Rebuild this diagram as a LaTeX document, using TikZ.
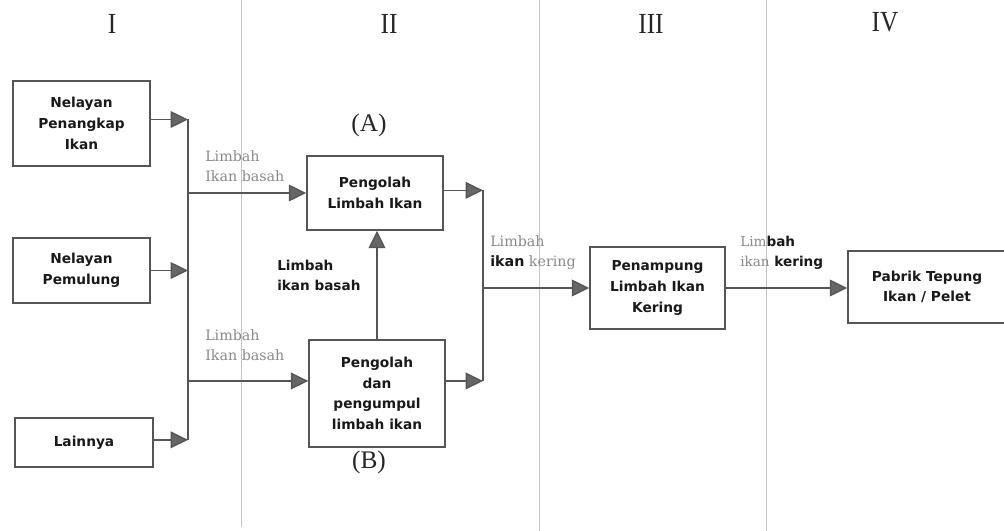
\documentclass[tikz,border=0pt]{standalone}
\usepackage{fontspec}
\setmainfont{Liberation Serif}
\newfontfamily\boxfont{DejaVu Sans}
\newfontfamily\lblfont{DejaVu Serif}
\usetikzlibrary{arrows.meta,calc}
\definecolor{linec}{HTML}{555555}
\definecolor{gridc}{HTML}{C4C4C4}
\definecolor{lgray}{HTML}{8A8A8A}
\begin{document}
\begin{tikzpicture}[x=0.75pt,y=-0.75pt,
  box/.style={draw=linec,line width=1.1pt,fill=white,align=center,inner sep=0pt,
    font=\boxfont\bfseries\fontsize{10.3}{15.5}\selectfont,text=black!90},
  arr/.style={draw=linec,line width=1pt,-{Triangle[length=13pt,width=12.5pt,fill=linec!90]}},
  ln/.style={draw=linec,line width=1pt},
  grid/.style={draw=gridc,line width=0.6pt},
  roman/.style={font=\fontsize{19}{22}\selectfont,text=black!85,yscale=1.15},
  lab/.style={font=\fontsize{19}{22}\selectfont,text=black!85},
  glbl/.style={font=\lblfont\fontsize{10.7}{15}\selectfont,text=lgray,align=left,inner sep=0pt,anchor=west},
  blbl/.style={font=\boxfont\bfseries\fontsize{10.2}{15}\selectfont,text=black!90,align=left,inner sep=0pt,anchor=west}]
\useasboundingbox (0,0) rectangle (1004,531);
\fill[white] (0,0) rectangle (1004,531);
% column separators
\coordinate (g1t) at (241,0); \coordinate (g1b) at (241,527);
\coordinate (g2t) at (539,0); \coordinate (g2b) at (539,531);
\coordinate (g3t) at (766,0); \coordinate (g3b) at (766,531);
\draw[grid] (g1t) -- (g1b);
\draw[grid] (g2t) -- (g2b);
\draw[grid] (g3t) -- (g3b);
% column headings
\node[roman] (hI) at (112,24) {I};
\node[roman] (hII) at (389,24) {II};
\node[roman] (hIII) at (651,24) {III};
\node[roman] (hIV) at (885,22) {IV};
% boxes
\node[box,minimum width=137*0.75pt,minimum height=85*0.75pt] (n1) at (81.5,123.5) {Nelayan\\Penangkap\\Ikan};
\node[box,minimum width=137*0.75pt,minimum height=65*0.75pt] (n2) at (81.5,270.5) {Nelayan\\Pemulung};
\node[box,minimum width=138*0.75pt,minimum height=49*0.75pt] (n3) at (84,442.5) {Lainnya};
\node[box,minimum width=136*0.75pt,minimum height=74*0.75pt] (A) at (375,193) {Pengolah\\Limbah Ikan};
\node[box,minimum width=136*0.75pt,minimum height=107*0.75pt] (B) at (377,393.5) {Pengolah\\dan\\pengumpul\\limbah ikan};
\node[box,minimum width=135*0.75pt,minimum height=82*0.75pt] (C) at (657.5,288) {Penampung\\Limbah Ikan\\Kering};
\node[box,minimum width=158*0.75pt,minimum height=72*0.75pt] (D) at (927,287) {Pabrik Tepung\\Ikan / Pelet};
% labels (A) (B)
\node[lab] (la) at (369,125) {(A)};
\node[lab] (lb) at (369,462) {(B)};
% buses
\coordinate (busL) at (188,0);
\coordinate (busR) at (483,0);
\coordinate (n1o) at ([yshift=3pt]n1.east);
\coordinate (n3o) at ([yshift=2pt]n3.east);
\coordinate (bIn) at ([yshift=9.4pt]B.west);
\coordinate (bOut) at ([yshift=9.4pt]B.east);
\coordinate (aOut) at ([yshift=2pt]A.east);
\draw[arr] (n1o) -- (n1o -| busL);
\draw[arr] (n2.east) -- (n2.east -| busL);
\draw[arr] (n3o) -- (n3o -| busL);
\draw[ln] (n1o -| busL) -- (n3o -| busL);
\draw[arr] (A.west -| busL) -- (A.west);
\draw[arr] (bIn -| busL) -- (bIn);
\draw[arr] (B.north) -- (B.north |- A.south);
\draw[arr] (aOut) -- (aOut -| busR);
\draw[arr] (bOut) -- (bOut -| busR);
\draw[ln] (aOut -| busR) -- (bOut -| busR);
\draw[arr] (C.west -| busR) -- (C.west);
\draw[arr] (C.east) -- (C.east -| D.west);
% connector labels
\node[glbl] (t1) at (205,166) {Limbah\\Ikan basah};
\node[glbl] (t2) at (205,345) {Limbah\\Ikan basah};
\node[blbl] (t3) at (277,275) {Limbah\\ikan basah};
\node[glbl] (t4) at (490,253) {Limbah\\\textcolor{black!90}{\boxfont\bfseries ikan} kering};
\node[blbl] (t5) at (740,253) {\textcolor{lgray}{\lblfont\mdseries Lim}bah\\\textcolor{lgray}{\lblfont\mdseries ikan} kering};
\end{tikzpicture}
\end{document}
